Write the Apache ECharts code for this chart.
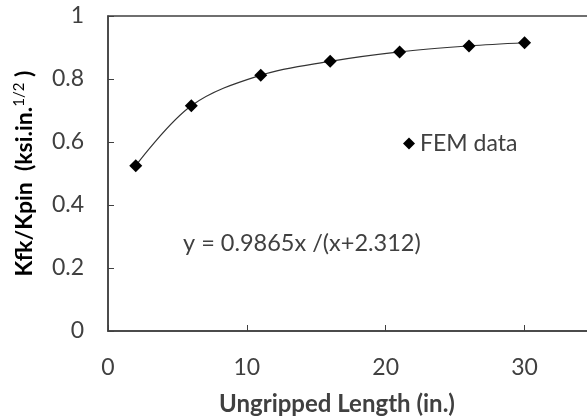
<!DOCTYPE html>
<html>
<head>
<meta charset="utf-8">
<title>Kfk/Kpin vs ungripped length</title>
<script src="https://cdn.jsdelivr.net/npm/echarts@6/dist/echarts.min.js"></script>
<style>
    html, body { margin: 0; padding: 0; background: #fff; }
    #main { width: 587px; height: 420px; }
</style>
</head>
<body>
<div id="main"></div>
<script>
    // data
    var lengths = [2, 6, 11, 16, 21, 26, 30];
    var ratios = [0.525, 0.715, 0.812, 0.856, 0.886, 0.905, 0.915];
    var xTicks = [0, 10, 20, 30];
    var yTicks = [0, 0.2, 0.4, 0.6, 0.8, 1];

    var font = 'Lato, "Open Sans", sans-serif';
    var grey = '#404040';

    var points = lengths.map(function (x, i) { return [x, ratios[i]]; });

    var myChart = echarts.init(document.getElementById('main'));
    var option = {
        animation: false,
        grid: {
            left: 108, top: 16, width: 486, bottom: 89,
            outerBoundsMode: 'none',
            show: true, borderColor: '#404040', borderWidth: 1.5
        },
        legend: {
            left: 398, top: 127,
            icon: 'diamond', itemWidth: 12, itemHeight: 12, itemGap: 4,
            textStyle: { fontFamily: font, fontSize: 23, color: grey },
            data: ['FEM data']
        },
        xAxis: {
            type: 'value', min: 0, max: 35, interval: 10,
            axisLine: { lineStyle: { color: '#404040', width: 1.5 } },
            axisTick: { inside: true, length: 6, lineStyle: { color: '#404040' } },
            axisLabel: {
                margin: 25, fontFamily: font, fontSize: 23, color: grey,
                formatter: function (v) { return xTicks.indexOf(v) >= 0 ? String(v) : ''; }
            },
            splitLine: { show: false }
        },
        yAxis: {
            type: 'value', min: 0, max: 1, interval: 0.2,
            axisLine: { show: true, lineStyle: { color: '#404040', width: 1.5 } },
            axisTick: { show: true, inside: true, length: 6, lineStyle: { color: '#404040' } },
            axisLabel: {
                margin: 24, fontFamily: font, fontSize: 23, color: grey,
                formatter: function (v) {
                    for (var i = 0; i < yTicks.length; i++) {
                        if (Math.abs(yTicks[i] - v) < 1e-6) return String(yTicks[i]);
                    }
                    return '';
                }
            },
            splitLine: { show: false },
            name: '{a|Kfk/Kpin  (ksi.in.}{s|1/2}{a| )}',
            nameLocation: 'middle', nameRotate: 90, nameGap: 58,
            nameTextStyle: {
                rich: {
                    a: { fontFamily: font, fontSize: 23, fontWeight: 'bold', color: '#000', lineHeight: 26 },
                    s: { fontFamily: font, fontSize: 15, color: '#000', verticalAlign: 'top', lineHeight: 26, padding: [0, 0, 14, 0] }
                }
            }
        },
        graphic: [
            {
                type: 'text', left: 183, top: 231,
                style: { text: 'y = 0.9865x /(x+2.312)', fontFamily: font, fontSize: 23.5, fill: grey }
            },
            {
                type: 'text', x: 337, y: 404,
                style: { text: 'Ungripped Length (in.)', fontFamily: font, fontSize: 24, fontWeight: 'bold', fill: grey, align: 'center', verticalAlign: 'middle' }
            }
        ],
        series: [{
            name: 'FEM data',
            type: 'line',
            data: points,
            smooth: 0.35,
            symbol: 'diamond',
            symbolSize: 13,
            itemStyle: { color: '#000' },
            lineStyle: { color: '#333', width: 1.2 }
        }]
    };
    myChart.setOption(option);
</script>
</body>
</html>
